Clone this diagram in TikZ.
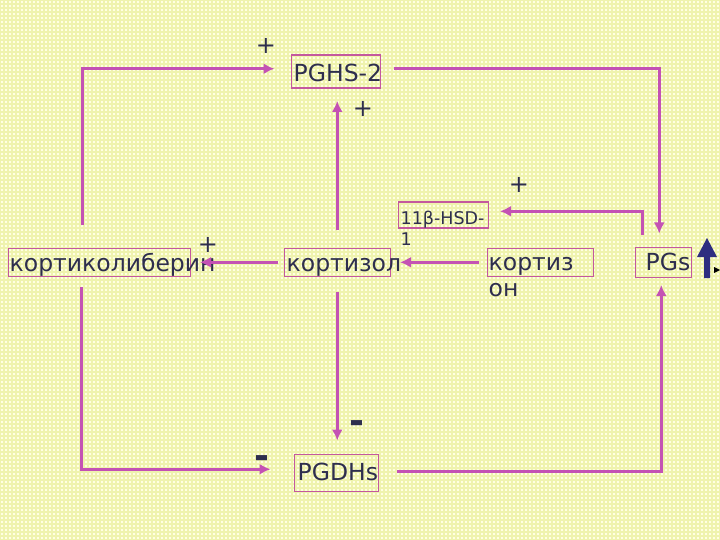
\documentclass[tikz,border=0pt]{standalone}
\usepackage{fontspec}
\setmainfont{DejaVu Sans}
\usetikzlibrary{arrows.meta,calc}
\definecolor{cLink}{HTML}{C452B4}
\definecolor{cFrame}{HTML}{C4589E}
\definecolor{cInk}{HTML}{2E2E4E}
\definecolor{cPaper}{HTML}{FFFFE2}
\definecolor{cGrid}{HTML}{EFF3AE}
\definecolor{cNavy}{HTML}{2E2E80}

\begin{document}
\begin{tikzpicture}[
    x=1pt, y=-1pt,
    font=\fontsize{23.5}{26}\selectfont,
    >={Latex[length=11pt,width=11pt]},
    box/.style={draw=cFrame, line width=1.5pt, anchor=north west, inner sep=0pt},
    lbl/.style={text=cInk, anchor=base west, inner sep=0pt, align=left},
    link/.style={draw=cLink, line width=3pt},
    plus/.style={text=cInk, inner sep=0pt, font=\fontsize{24}{24}\selectfont},
    minus/.style={text=cInk, inner sep=0pt, font=\bfseries\fontsize{36}{36}\selectfont},
]

% ---- paper ----
\useasboundingbox (0,0) rectangle (720,540);
\fill[cPaper] (0,0) rectangle (720,540);
\draw[cGrid, line width=1.6pt, step=4pt] (0,0) grid (720,540);

% ---- boxes ----
\node[box, minimum width=182pt, minimum height=28pt] (crh) at (7.5,247.5) {};
\node[box, minimum width=106pt, minimum height=28pt] (cortisol) at (283.5,247.5) {};
\node[box, minimum width=106pt, minimum height=28pt] (cortizon) at (486.5,247.5) {};
\node[box, minimum width=90pt, minimum height=26pt] (hsd) at (397.5,201.5) {};
\node[box, minimum width=56pt, minimum height=30pt] (pgs) at (634.5,246.5) {};
\node[box, minimum width=89pt, minimum height=33pt] (pghs) at (290.5,54.5) {};
\node[box, minimum width=84pt, minimum height=37pt] (pgdh) at (293.5,453.5) {};

% ---- labels (they run out of their boxes) ----
\node[lbl] (crh-txt) at ($(crh.south west)+(2,-6)$) {кортиколиберин};
\node[lbl] (cortisol-txt) at ($(cortisol.south west)+(3,-6)$) {кортизол};
\node[lbl] (cortizon-txt) at ($(cortizon.south west)+(2,19)$) {кортиз\\он};
\node[lbl, font=\fontsize{17.5}{20.5}\selectfont] (hsd-txt)
      at ($(hsd.south west)+(3,16)$) {11β-HSD-\\1};
\node[lbl] (pgs-txt) at ($(pgs.south west)+(11,-8)$) {PGs};
\node[lbl] (pghs-txt) at ($(pghs.south west)+(3,-7)$) {PGHS-2};
\node[lbl] (pgdh-txt) at ($(pgdh.south west)+(4,-12)$) {PGDHs};

% ---- connectors ----
\draw[link, ->] ($(crh.north west)+(75,-22)$) |- ($(pghs.west)+(-16,-3)$);
\draw[link, ->] ($(cortisol.north)+(0,-17)$) -- ($(cortisol.north|-pghs.south)+(0,12)$);
\draw[link, ->] ($(pghs.east)+(13,-3)$) -| ($(pgs.north)+(-4,-13)$);
\draw[link, ->] ($(pgs.north west)+(8,-12)$) |- ($(hsd.east)+(11,-4)$);
\draw[link, ->] ($(cortizon.west)+(-8,0)$) -- ($(cortisol.east)+(9,0)$);
\draw[link, ->] ($(cortisol.west)+(-6,0)$) -- ($(crh.east)+(9,0)$);
\draw[link, ->] ($(cortisol.south)+(0,15)$) -- ($(cortisol.south|-pgdh.north)+(0,-13)$);
\draw[link, ->] ($(crh.south west)+(74,10)$) |- ($(pgdh.west)+(-23,-3.5)$);
\draw[link, ->] ($(pgdh.east)+(18,-1.5)$) -| ($(pgs.south)+(-2,7)$);

% ---- signs ----
\node[plus] (p1) at (266,46) {+};
\node[plus] (p2) at (363,109) {+};
\node[plus] (p3) at (519,185) {+};
\node[plus] (p4) at (208,245) {+};
\node[minus] (m1) at (357,427) {-};
\node[minus] (m2) at (262,462) {-};

% ---- rising arrow by PGs ----
\fill[cNavy] (704,278) -- (704,257) -- (697,257) -- (707,238) -- (717,257)
      -- (710,257) -- (710,278) -- cycle;
\fill[black] (714,267) -- (720,270) -- (714,273) -- cycle;

\end{tikzpicture}
\end{document}
